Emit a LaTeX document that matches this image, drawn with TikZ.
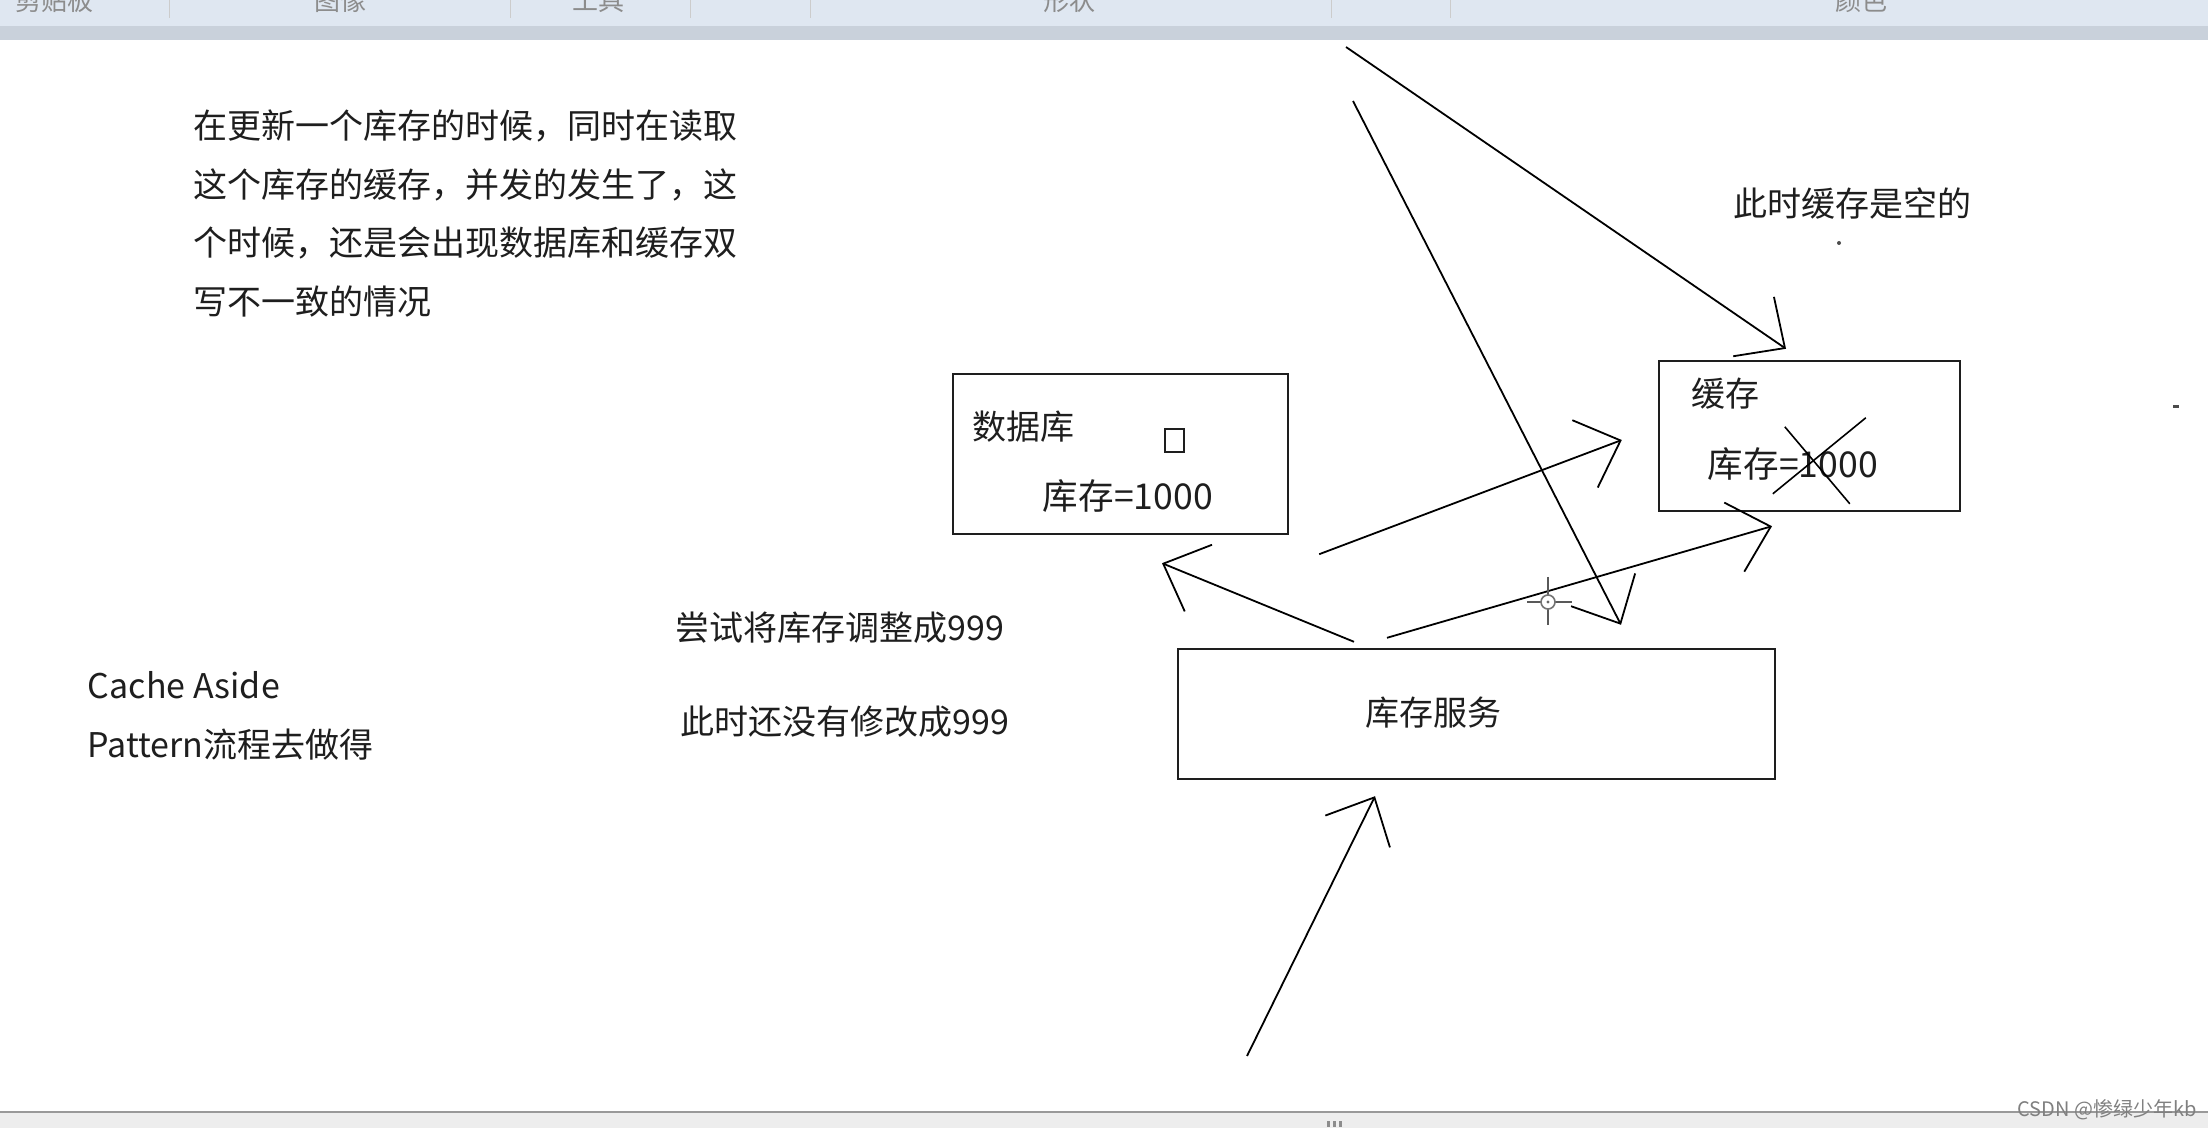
\documentclass[tikz,border=0pt]{standalone}
\usepackage{fontspec}
\setmainfont{Noto Sans CJK SC}
\usetikzlibrary{arrows.meta}

\definecolor{barblue}{HTML}{DFE7F1}
\definecolor{bargrey}{HTML}{C9D1DB}
\definecolor{ink}{HTML}{1E1E1E}

\tikzset{bx/.style={draw=ink, line width=1.2pt, inner sep=0pt},
         tx/.style={inner sep=0pt, text=ink, font=\fontsize{17}{29.3}\selectfont},
         val/.style={tx, font=\fontsize{17.8}{20}\selectfont},
         tb/.style={inner sep=0pt, text=black!45, font=\fontsize{13}{13}\selectfont}}

\begin{document}
\begin{tikzpicture}[x=0.5pt, y=-0.5pt, line width=0.9pt, >={Straight Barb[length=19pt, width=36pt]}]
    \useasboundingbox (0,0) rectangle (2208,1128);

    % window bars
    \fill[barblue] (0,0) rectangle (2208,26);
    \fill[bargrey] (0,26) rectangle (2208,40);
    \begin{scope}
        \clip (0,0) rectangle (2208,26);
        \node[tb] (tbclip) at (55,1) {剪贴板};
        \node[tb] (tbimg) at (340,1) {图像};
        \node[tb] (tbtool) at (598,1) {工具};
        \node[tb] (tbshape) at (1069,1) {形状};
        \node[tb] (tbcolor) at (1861,1) {颜色};
        \foreach \sx in {169,510,690,810,1331,1450}
            \draw[black!20, line width=0.5pt] (\sx,0) -- (\sx,18);
    \end{scope}
    \fill[black!7] (0,1112) rectangle (2208,1128);
    \draw[black!40, line width=1pt] (0,1112) -- (2208,1112);
    \foreach \gx in {1327,1333,1339}
        \fill[black!45] (\gx,1121) rectangle ++(3,6);
    \node[inner sep=1pt, text=black!50, font=\fontsize{10}{10}\selectfont] (mark) at (2107,1110) {CSDN @惨绿少年kb};

    % boxes
    \node[bx, minimum width=167.5pt, minimum height=80pt] (db) at (1120.5,454) {};
    \node[bx, minimum width=150.5pt, minimum height=75pt] (cache) at (1809.5,436) {};
    \node[bx, minimum width=298.5pt, minimum height=65pt] (svc) at (1476.5,714) {};

    \node[tx] (dbname) at ([shift={(72,54)}]db.north west) {数据库};
    \node[draw=ink, line width=0.8pt, inner sep=0pt, minimum width=9.5pt, minimum height=11.5pt] (dbmark) at ([shift={(222.5,67.5)}]db.north west) {};
    \node[val] (dbval) at ([shift={(176,123)}]db.north west) {库存=1000};

    \node[tx] (cachename) at ([shift={(68,34)}]cache.north west) {缓存};
    \node[val] (cacheval) at ([shift={(135,104)}]cache.north west) {库存=1000};
    \draw[line width=0.8pt] ([shift={(-8,-37)}]cacheval.center) -- ([shift={(57,40)}]cacheval.center);
    \draw[line width=0.8pt] ([shift={(73,-46)}]cacheval.center) -- ([shift={(-20,30)}]cacheval.center);

    \node[tx] (svcname) at ([shift={(-43,-1)}]svc.center) {库存服务};

    % texts
    \node[tx, anchor=north west, align=left] (intro) at (193,109) {在更新一个库存的时候，同时在读取\\这个库存的缓存，并发的发生了，这\\个时候，还是会出现数据库和缓存双\\写不一致的情况};
    \node[tx, anchor=north west, align=left] (pattern) at (87,671) {Cache Aside\\Pattern流程去做得};
    \node[tx] (empty) at (1852,204) {此时缓存是空的};
    \node[tx] (tryset) at (840,628) {尝试将库存调整成999};
    \node[tx] (notyet) at (845,722) {此时还没有修改成999};

    % free ends
    \coordinate (topa) at (1346,47);
    \coordinate (topb) at (1353,101);
    \coordinate (req) at (1247,1056);

    % arrows
    \draw[->] ([shift={(-122.5,-6)}]svc.north) -- ([shift={(41.5,28)}]db.south);
    \draw[->] ([shift={(30,19)}]db.south east) -- ([shift={(-36,4)}]cache.west);
    \draw[->] ([shift={(-89.5,-10)}]svc.north) -- ([shift={(-37.5,14)}]cache.south);
    \draw[->] (topb) -- ([shift={(144.5,-23)}]svc.north);
    \draw[->] (topa) -- ([shift={(-23.5,-11)}]cache.north);
    \draw[->] (req) -- ([shift={(-101.5,16)}]svc.south);

    % cursor and specks
    \draw[black!65, line width=1pt] (1548,577) -- (1548,625) (1527,602) -- (1572,602);
    \draw[black!55, fill=white, line width=0.8pt] (1548,602) circle[radius=3.5pt];
    \fill[black!60] (1548,602) circle[radius=0.8pt];
    \fill[black!70] (1839,243) circle[radius=1pt];
    \fill[black!70] (2173,405) rectangle ++(6,3);
\end{tikzpicture}
\end{document}
